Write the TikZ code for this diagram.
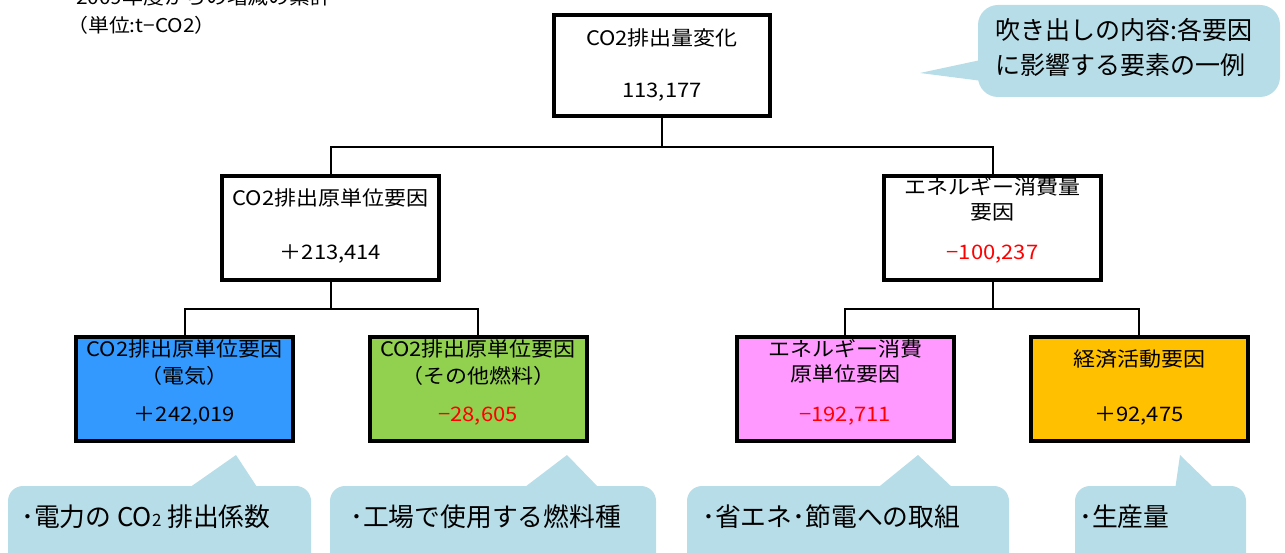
\documentclass[tikz,border=0pt]{standalone}
\usepackage{fontspec}
\setmainfont{Noto Sans CJK JP}
\newfontfamily\boxfont{Noto Sans CJK JP}[FakeStretch=1.1]
\definecolor{cblue}{HTML}{3399FF}
\definecolor{cgreen}{HTML}{92D050}
\definecolor{cpink}{HTML}{FF99FF}
\definecolor{corange}{HTML}{FFC000}
\definecolor{callout}{HTML}{B7DDE8}
\definecolor{cred}{HTML}{FF0000}
\begin{document}
\begin{tikzpicture}[x=1pt,y=-1pt,
  box/.style={draw=black, line width=4pt, minimum width=217pt, minimum height=104pt, inner sep=0pt},
  conn/.style={draw=black, line width=2pt},
  txt/.style={font=\boxfont\fontsize{20}{24}\selectfont, inner sep=0pt, text height=0.8em, text depth=0.2em},
  ctxt/.style={font=\fontsize{25}{30}\selectfont, inner sep=0pt, text height=0.8em, text depth=0.2em, anchor=west},
  btxt/.style={ctxt, font=\fontsize{25.8}{30}\selectfont},
  htxt/.style={font=\boxfont\fontsize{19}{22}\selectfont, inner sep=0pt, anchor=west, text height=0.8em, text depth=0.2em},
  neg/.style={text=cred},
  bubble/.style={fill=callout, draw=none}
]
\useasboundingbox (0,0) rectangle (1285,553);
\clip (0,0) rectangle (1285,553);

% header text
\node[htxt] (hd1) at (76,2) {2009年度からの増減の累計};
\node[htxt] (hd2) at (67,30) {（単位:t−CO2）};

% connectors
\coordinate (bus1) at (0,147);
\coordinate (bus2) at (0,309);

% boxes
\node[box, fill=white, minimum width=216pt, minimum height=101pt] (top) at (662,65.5) {};
\node[box, fill=white] (ml) at (330.5,228) {};
\node[box, fill=white] (mr) at (992.5,228) {};
\node[box, fill=cblue] (blue) at (184.5,389) {};
\node[box, fill=cgreen] (green) at (478,389) {};
\node[box, fill=cpink] (pink) at (845,389) {};
\node[box, fill=corange] (orange) at (1139,389) {};

\draw[conn] (top.south) -- (top.south |- bus1) -| (ml.north);
\draw[conn] (top.south |- bus1) -| (mr.north);
\draw[conn] (ml.south) -- (ml.south |- bus2) -| (blue.north);
\draw[conn] (ml.south |- bus2) -| (green.north);
\draw[conn] (mr.south) -- (mr.south |- bus2) -| (pink.north);
\draw[conn] (mr.south |- bus2) -| (orange.north);

% box texts
\node[txt] (topA) at (662,43) {CO2排出量変化};
\node[txt] (topB) at (662,95) {113,177};
\node[txt] (mlA) at (330.5,203) {CO2排出原単位要因};
\node[txt] (mlB) at (330.5,257) {＋213,414};
\node[txt] (mrA) at (992.5,192) {エネルギー消費量};
\node[txt] (mrB) at (992.5,217) {要因};
\node[txt, neg] (mrC) at (992.5,257) {−100,237};
\node[txt] (blueA) at (184.5,353) {CO2排出原単位要因};
\node[txt] (blueB) at (184.5,380) {（電気）};
\node[txt] (blueC) at (184.5,418) {＋242,019};
\node[txt] (greenA) at (478,353) {CO2排出原単位要因};
\node[txt] (greenB) at (478,380) {（その他燃料）};
\node[txt, neg] (greenC) at (478,418) {−28,605};
\node[txt] (pinkA) at (845,353) {エネルギー消費};
\node[txt] (pinkB) at (845,378) {原単位要因};
\node[txt, neg] (pinkC) at (845,418) {−192,711};
\node[txt] (orangeA) at (1139,363) {経済活動要因};
\node[txt] (orangeB) at (1139,418) {＋92,475};

% top-right callout
\fill[bubble, rounded corners=20pt] (978,5) rectangle (1280,97);
\fill[bubble] (990,58) -- (920,73) -- (990,82) -- cycle;
\node[ctxt] (legA) at (995,37) {吹き出しの内容:各要因};
\node[ctxt] (legB) at (995,72) {に影響する要素の一例};

% bottom callouts
\fill[bubble, rounded corners=15pt] (8,486) rectangle (311,575);
\fill[bubble] (186,490) -- (236,455) -- (259,490) -- cycle;
\fill[bubble, rounded corners=15pt] (330,486) rectangle (656,575);
\fill[bubble] (521,490) -- (567,455) -- (601,490) -- cycle;
\fill[bubble, rounded corners=15pt] (687,486) rectangle (1009,575);
\fill[bubble] (875,490) -- (918,455) -- (955,490) -- cycle;
\fill[bubble, rounded corners=15pt] (1075,486) rectangle (1246,575);
\fill[bubble] (1175,490) -- (1180,455) -- (1216,490) -- cycle;

\node[btxt] (c1) at (21,523) {･電力の CO{\fontsize{17}{17}\selectfont 2} 排出係数};
\node[btxt] (c2) at (350,523) {･工場で使用する燃料種};
\node[btxt] (c3) at (702,523) {･省エネ･節電への取組};
\node[btxt] (c4) at (1079,523) {･生産量};
\end{tikzpicture}
\end{document}
